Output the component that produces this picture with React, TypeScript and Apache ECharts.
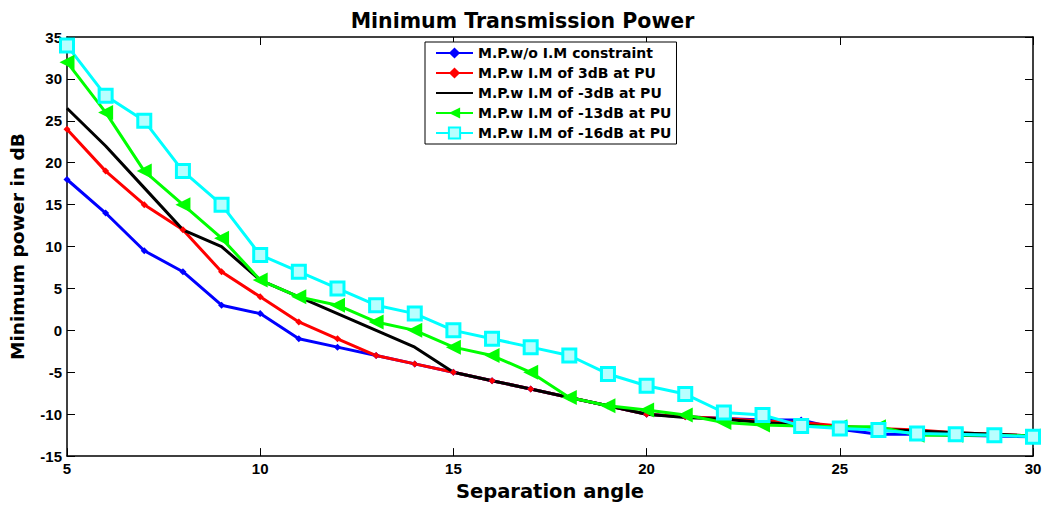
import React, { useEffect, useRef } from "react";
import * as echarts from "echarts";

const angles = [5,6,7,8,9,10,11,12,13,14,15,16,17,18,19,20,21,22,23,24,25,26,27,28,29,30];
const noIM = [18,14,9.5,7,3,2,-1,-2,-3,-4,-5,-6,-7,-8,-9,-10,-10.3,-10.5,-10.7,-10.7,-11.8,-12.4,-12.4,-12.5,-12.6,-12.7];
const im3 = [24,19,15,12,7,4,1,-1,-3,-4,-5,-6,-7,-8,-9,-10,-10.3,-10.5,-10.8,-11,-11.4,-11.7,-11.9,-12.2,-12.4,-12.6];
const imM3 = [26.5,22,17,12,10,6,4,2,0,-2,-5,-6,-7,-8,-9,-10,-10.4,-10.6,-11,-11.3,-11.6,-11.8,-12,-12.2,-12.4,-12.6];
const imM13 = [32,26,19,15,11,6,4,3,1,0,-2,-3,-5,-8,-9,-9.5,-10.1,-11,-11.3,-11.4,-11.5,-11.5,-12.5,-12.5,-12.5,-12.6];
const imM16 = [34,28,25,19,15,9,7,5,3,2,0,-1,-2,-3,-5.2,-6.6,-7.6,-9.8,-10.1,-11.4,-11.7,-11.9,-12.3,-12.4,-12.5,-12.7];
const seriesNames = [
  "M.P.w/o I.M constraint",
  "M.P.w I.M of 3dB at PU",
  "M.P.w I.M of -3dB at PU",
  "M.P.w I.M of -13dB at PU",
  "M.P.w I.M of -16dB at PU",
];
const titleText = "Minimum Transmission Power";
const xName = "Separation angle";
const yName = "Minimum power in dB";

const FONT = "Liberation Sans, Arial, sans-serif";
const WIDE = "DejaVu Sans, Verdana, sans-serif";

export default function App() {
  const ref = useRef<HTMLDivElement>(null);
  useEffect(() => {
    document.body.style.margin = "0";
    if (!ref.current) return;
    const chart = echarts.init(ref.current, null, { renderer: "svg" });
    const pair = (vals: number[]) => angles.map((a, i) => [a, vals[i]]);
    const axisCommon = {
      axisLine: { show: true, onZero: false, lineStyle: { color: "#000", width: 1.5 } },
      axisTick: { show: true, inside: true, length: 8, lineStyle: { color: "#000" } },
      splitLine: { show: false },
    };
    const labelStyle = { color: "#000", fontWeight: "bold", fontSize: 15, fontFamily: FONT };
    chart.setOption({
      animation: false,
      backgroundColor: "#fff",
      textStyle: { fontFamily: FONT },
      title: {
        text: titleText,
        left: "center",
        top: 5,
        textStyle: { color: "#000", fontWeight: "bold", fontSize: 20.5, fontFamily: WIDE },
      },
      grid: { left: 67, right: 12, top: 37, bottom: 49, containLabel: false },
      legend: {
        orient: "vertical",
        left: 425,
        top: 42,
        padding: [4, 5, 4, 10],
        itemGap: 6,
        itemWidth: 37,
        itemHeight: 14,
        backgroundColor: "#fff",
        borderColor: "#000",
        borderWidth: 1,
        textStyle: { color: "#000", fontWeight: "bold", fontSize: 14, fontFamily: WIDE },
        data: [
          { name: seriesNames[0] },
          { name: seriesNames[1] },
          { name: seriesNames[2], itemStyle: { opacity: 0 } },
          { name: seriesNames[3] },
          { name: seriesNames[4] },
        ],
      },
      xAxis: [
        {
          type: "value",
          min: 5,
          max: 30,
          interval: 5,
          name: xName,
          nameLocation: "middle",
          nameGap: 24,
          nameTextStyle: { color: "#000", fontWeight: "bold", fontSize: 19.5, fontFamily: WIDE },
          axisLabel: { ...labelStyle, margin: 5 },
          ...axisCommon,
        },
        {
          type: "value",
          position: "top",
          min: 5,
          max: 30,
          interval: 5,
          axisLabel: { show: false },
          ...axisCommon,
        },
      ],
      yAxis: [
        {
          type: "value",
          min: -15,
          max: 35,
          interval: 5,
          name: yName,
          nameLocation: "middle",
          nameGap: 40,
          nameTextStyle: { color: "#000", fontWeight: "bold", fontSize: 18.5, fontFamily: WIDE },
          axisLabel: { ...labelStyle, margin: 5 },
          ...axisCommon,
        },
        {
          type: "value",
          position: "right",
          min: -15,
          max: 35,
          interval: 5,
          axisLabel: { show: false },
          ...axisCommon,
        },
      ],
      series: [
        {
          name: seriesNames[0],
          type: "line",
          data: pair(noIM),
          symbol: "diamond",
          symbolSize: 7,
          lineStyle: { color: "#0000ff", width: 3 },
          itemStyle: { color: "#0000ff" },
        },
        {
          name: seriesNames[1],
          type: "line",
          data: pair(im3),
          symbol: "diamond",
          symbolSize: 7,
          lineStyle: { color: "#ff0000", width: 3 },
          itemStyle: { color: "#ff0000" },
        },
        {
          name: seriesNames[2],
          type: "line",
          data: pair(imM3),
          symbol: "none",
          showSymbol: false,
          lineStyle: { color: "#000000", width: 3 },
          itemStyle: { color: "#000000" },
        },
        {
          name: seriesNames[3],
          type: "line",
          data: pair(imM13),
          symbol: "triangle",
          symbolRotate: 90,
          symbolSize: 15,
          lineStyle: { color: "#00ff00", width: 3 },
          itemStyle: { color: "#00ff00" },
        },
        {
          name: seriesNames[4],
          type: "line",
          data: pair(imM16),
          symbol: "rect",
          symbolSize: 13,
          lineStyle: { color: "#00ffff", width: 3 },
          itemStyle: { color: "#b8ffff", borderColor: "#00ffff", borderWidth: 3 },
        },
      ],
    });
    return () => chart.dispose();
  }, []);
  return <div ref={ref} style={{ width: 1045, height: 506 }} />;
}
